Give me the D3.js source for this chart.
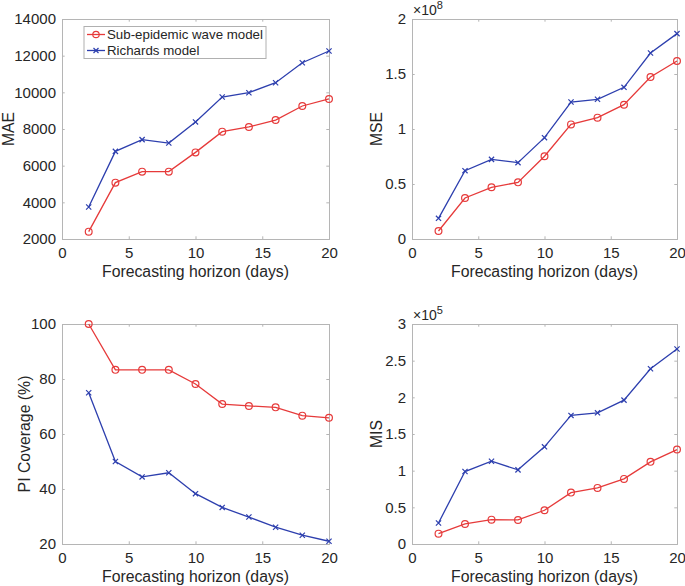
<!DOCTYPE html>
<html>
<head>
<meta charset="utf-8">
<script src="https://cdn.jsdelivr.net/npm/d3@7"></script>
<style>
html,body{margin:0;padding:0;background:#fff;}
svg{display:block;font-family:"Liberation Sans",Arial,Helvetica,sans-serif;}
</style>
</head>
<body>
<svg id="chart" width="685" height="586"></svg>
<script>
const horizons = [2, 4, 6, 8, 10, 12, 14, 16, 18, 20];
const seriesNames = ["Sub-epidemic wave model", "Richards model"];
const maeSub = [2400, 5075, 5675, 5675, 6725, 7855, 8110, 8490, 9255, 9640];
const maeRich = [3745, 6780, 7420, 7235, 8385, 9745, 9980, 10525, 11615, 12255];
const mseSub = [0.073, 0.373, 0.47, 0.515, 0.752, 1.042, 1.103, 1.221, 1.473, 1.618];
const mseRich = [0.188, 0.621, 0.724, 0.694, 0.921, 1.245, 1.27, 1.379, 1.691, 1.867];
const piSub = [100, 83.33, 83.33, 83.33, 78.2, 70.9, 70.2, 69.7, 66.67, 65.9];
const piRich = [75, 50, 44.4, 45.9, 38.3, 33.3, 29.8, 26.1, 23.2, 21.0];
const misSub = [0.141, 0.273, 0.332, 0.328, 0.46, 0.701, 0.765, 0.888, 1.12, 1.288];
const misRich = [0.287, 0.988, 1.129, 1.011, 1.325, 1.753, 1.789, 1.962, 2.39, 2.659];
const xTicks = [0, 5, 10, 15, 20];
const maeTicks = [2000, 4000, 6000, 8000, 10000, 12000, 14000];
const mseTicks = [0, 0.5, 1, 1.5, 2];
const piTicks = [20, 40, 60, 80, 100];
const misTicks = [0, 0.5, 1, 1.5, 2, 2.5, 3];

const RED = "#e63a3a", BLUE = "#2d3fae", AXC = "#b5b5b5", TXT = "#262626";
const svg = d3.select("#chart");

const panels = [
  {l:62, r:329, t:19, b:239, ylab:"MAE", ylx:8, dom:[2000,14000], ticks:maeTicks, sub:maeSub, rich:maeRich, exp:null, legend:true},
  {l:412, r:677, t:19, b:239, ylab:"MSE", ylx:376, dom:[0,2], ticks:mseTicks, sub:mseSub, rich:mseRich, exp:"8"},
  {l:62, r:329, t:324, b:544, ylab:"PI Coverage (%)", ylx:24, dom:[20,100], ticks:piTicks, sub:piSub, rich:piRich, exp:null},
  {l:412, r:677, t:324, b:544, ylab:"MIS", ylx:376, dom:[0,3], ticks:misTicks, sub:misSub, rich:misRich, exp:"5"}
];

const fmt = v => String(v);

panels.forEach(p => {
  const x = d3.scaleLinear().domain([0,20]).range([p.l,p.r]);
  const y = d3.scaleLinear().domain(p.dom).range([p.b,p.t]);
  const g = svg.append("g");
  const tl = 2.7;
  // axes with inward ticks
  const axB = g.append("g").attr("transform",`translate(0,${p.b})`)
    .call(d3.axisBottom(x).tickValues(xTicks).tickSize(-tl).tickPadding(6).tickFormat(fmt));
  const axT = g.append("g").attr("transform",`translate(0,${p.t})`)
    .call(d3.axisTop(x).tickValues(xTicks).tickSize(-tl).tickFormat(""));
  const axL = g.append("g").attr("transform",`translate(${p.l},0)`)
    .call(d3.axisLeft(y).tickValues(p.ticks).tickSize(-tl).tickPadding(6).tickFormat(fmt));
  const axR = g.append("g").attr("transform",`translate(${p.r},0)`)
    .call(d3.axisRight(y).tickValues(p.ticks).tickSize(-tl).tickFormat(""));
  [axB,axT,axL,axR].forEach(a=>{
    a.select(".domain").attr("stroke",AXC).attr("stroke-width",1);
    a.selectAll(".tick line").attr("stroke",AXC);
    a.selectAll(".tick text").attr("fill",TXT).style("font-size","15px").style("font-family","'Liberation Sans',Arial,sans-serif");
  });
  axB.selectAll(".tick text").attr("dy","0.85em");
  // labels
  g.append("text").attr("x",(p.l+p.r)/2).attr("y",p.b+38).attr("text-anchor","middle")
    .attr("fill",TXT).style("font-size","15.8px").text("Forecasting horizon (days)");
  g.append("text").attr("transform",`translate(${p.ylx + 6},${(p.t+p.b)/2}) rotate(-90)`)
    .attr("text-anchor","middle").attr("fill",TXT).style("font-size","15.8px").text(p.ylab);
  if (p.exp) {
    const t = g.append("text").attr("x",p.l+1).attr("y",p.t-4).attr("fill",TXT).style("font-size","14px");
    t.append("tspan").text("×10");
    t.append("tspan").attr("dy","-6").style("font-size","11px").text(p.exp);
  }
  const line = d3.line().x((d,i)=>x(horizons[i])).y(d=>y(d));
  const drawSeries = (vals,color,marker) => {
    g.append("path").datum(vals).attr("d",line).attr("fill","none").attr("stroke",color).attr("stroke-width",1.3);
    const m = g.append("g").selectAll("g").data(vals).join("g")
      .attr("transform",(d,i)=>`translate(${x(horizons[i])},${y(d)})`);
    if (marker==="o") {
      m.append("circle").attr("r",3.4).attr("fill","none").attr("stroke",color).attr("stroke-width",1.2);
    } else {
      m.append("path").attr("d","M-2.6,-2.6L2.6,2.6M-2.6,2.6L2.6,-2.6").attr("stroke",color).attr("stroke-width",1.2);
    }
  };
  drawSeries(p.sub,RED,"o");
  drawSeries(p.rich,BLUE,"x");

  if (p.legend) {
    const lg = g.append("g");
    lg.append("rect").attr("x",84).attr("y",26.5).attr("width",182).attr("height",32)
      .attr("fill","#fff").attr("stroke","#b0b0b0").attr("stroke-width",1);
    [[RED,"o",34.5,seriesNames[0]],[BLUE,"x",50.5,seriesNames[1]]].forEach(([c,mk,yy,name])=>{
      lg.append("line").attr("x1",87).attr("x2",105).attr("y1",yy).attr("y2",yy).attr("stroke",c).attr("stroke-width",1.3);
      if (mk==="o") lg.append("circle").attr("cx",96).attr("cy",yy).attr("r",3.2).attr("fill","none").attr("stroke",c).attr("stroke-width",1.2);
      else lg.append("path").attr("d",`M93.5,${yy-2.5}L98.5,${yy+2.5}M93.5,${yy+2.5}L98.5,${yy-2.5}`).attr("stroke",c).attr("stroke-width",1.2);
      lg.append("text").attr("x",107).attr("y",yy).attr("dy","0.35em").attr("fill",TXT).style("font-size","13.3px").text(name);
    });
  }
});
</script>
</body>
</html>
